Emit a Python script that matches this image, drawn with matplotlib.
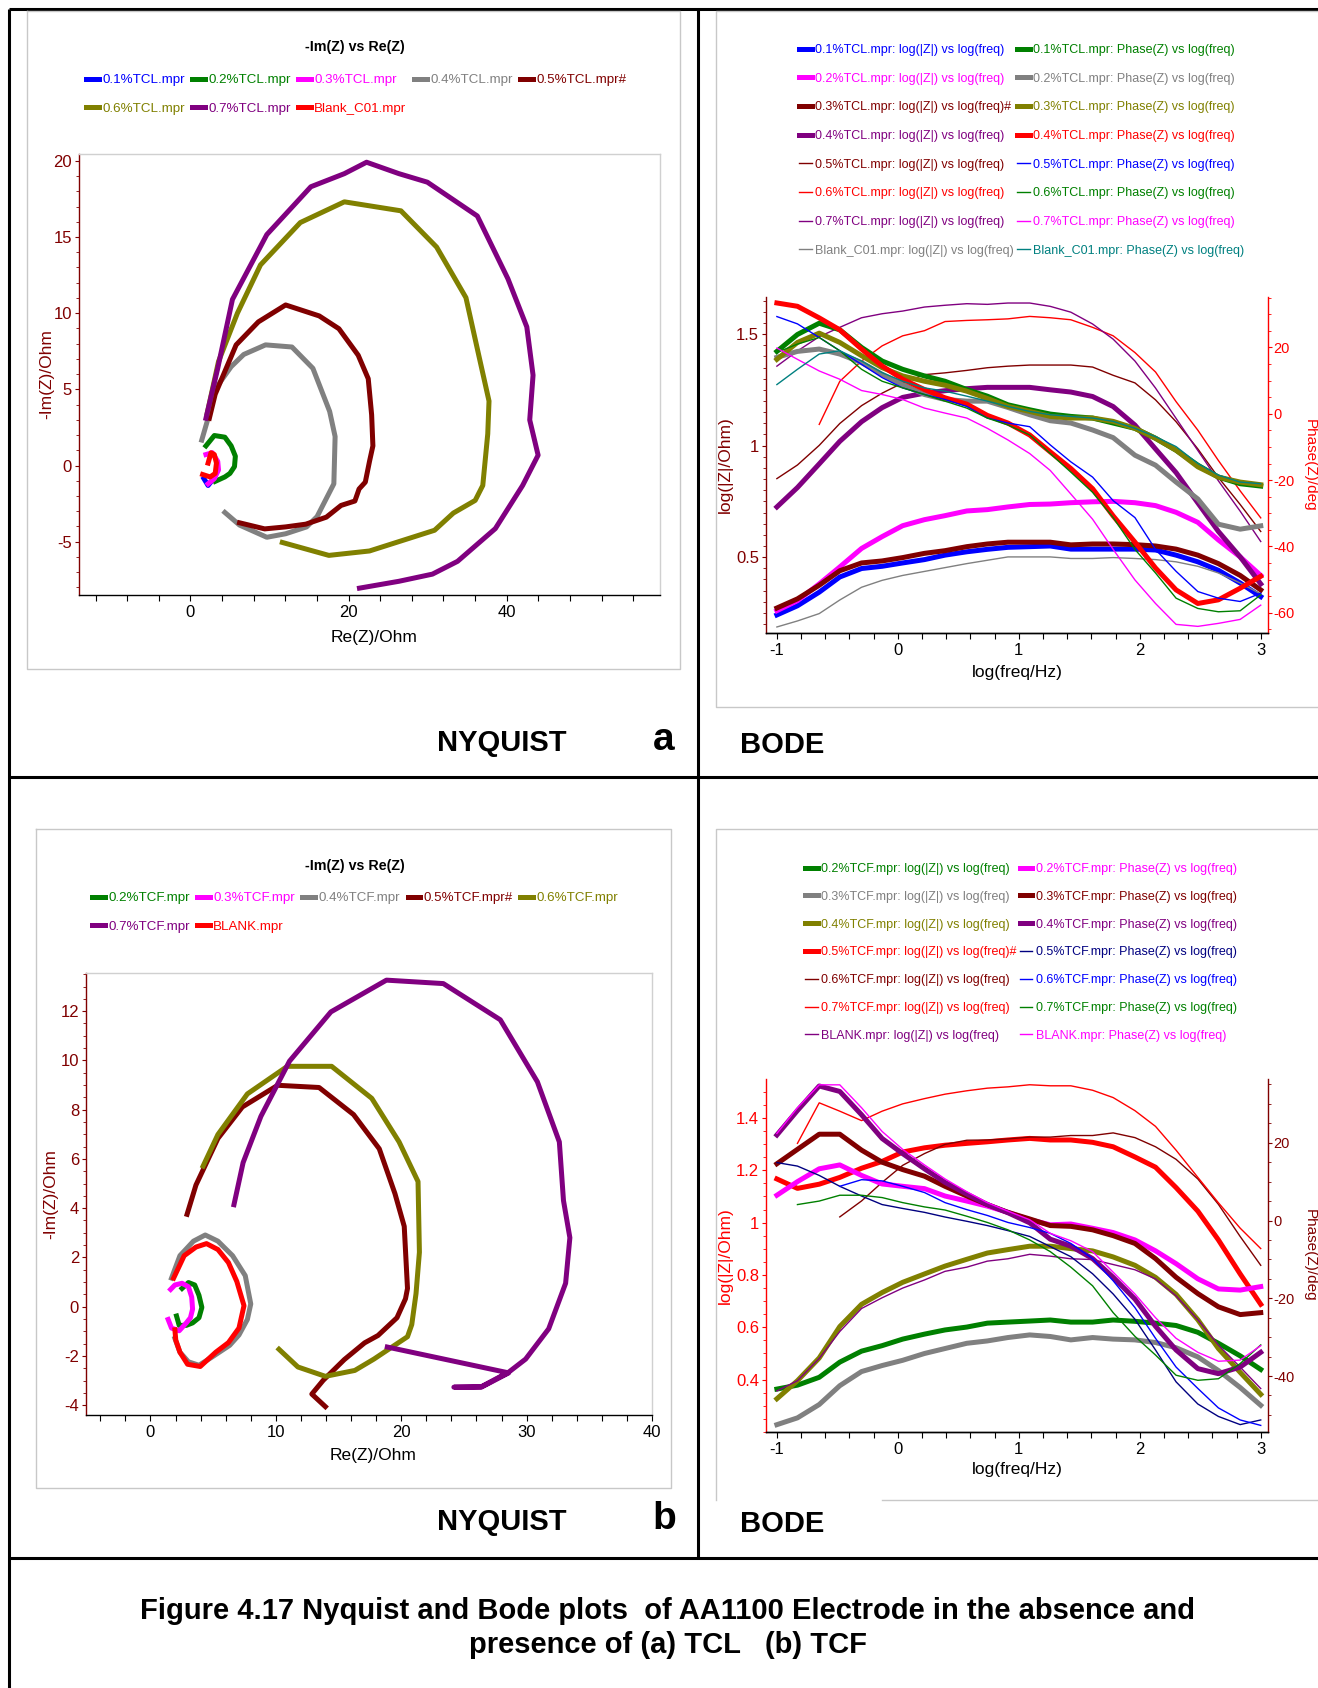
import matplotlib
matplotlib.use("Agg")
import matplotlib.pyplot as plt
from matplotlib import font_manager
from matplotlib.font_manager import FontProperties
from matplotlib.ticker import FuncFormatter, MultipleLocator, FixedLocator

nan = float("nan")

# ---------------- Nyquist (a) TCL : Re(Z) and -Im(Z) in Ohm ----------------
nqa_re_01 = [1.70, 2.23, 2.76]
nqa_im_01 = [-0.86, -1.31, -0.97]
nqa_re_02 = [1.96, 3.02, 4.35, 5.15, 5.68, 5.57, 4.99, 4.35, 3.13]
nqa_im_02 = [1.29, 1.97, 1.86, 1.29, 0.61, -0.07, -0.52, -0.75, -1.04]
nqa_re_03 = [1.96, 2.76, 3.45, 3.55, 3.02, 2.23]
nqa_im_03 = [0.72, 0.84, 0.27, -0.29, -0.86, -1.20]
nqa_re_04 = [1.43, 2.23, 3.13, 5.15, 6.74, 9.50, 12.84, 15.49, 17.61, 18.30,
             18.14, 16.02, 14.69, 12.04, 9.66, 6.21, 4.35]
nqa_im_04 = [1.67, 3.10, 5.02, 6.49, 7.29, 7.92, 7.78, 6.38, 3.55, 1.90,
             -1.20, -3.35, -4.03, -4.48, -4.71, -3.91, -3.08]
nqa_re_05 = [2.39, 3.13, 5.78, 8.59, 12.04, 16.29, 18.78, 21.22, 22.49, 22.92,
             23.08, 22.65, 22.12, 21.33, 20.80, 19.05, 17.19, 14.59, 12.04, 9.39, 6.21]
nqa_im_05 = [3.10, 4.68, 7.92, 9.43, 10.54, 9.82, 8.98, 7.24, 5.70, 3.33,
             1.29, 0.27, -1.09, -1.54, -2.33, -2.62, -3.39, -3.85, -4.03, -4.16, -3.76]
nqa_re_06 = [2.12, 3.55, 5.94, 8.86, 13.90, 19.47, 26.63, 31.14, 34.85, 36.45,
             37.77, 37.61, 36.98, 36.02, 33.26, 30.88, 22.65, 17.51, 11.62]
nqa_im_06 = [3.44, 6.83, 10.00, 13.17, 15.95, 17.31, 16.72, 14.34, 11.02, 7.29,
             4.23, 2.08, -1.31, -2.29, -3.12, -4.25, -5.61, -5.90, -5.05]
nqa_re_07 = [1.96, 3.45, 5.31, 9.66, 15.23, 19.47, 22.28, 26.37, 29.97, 36.29,
             40.16, 42.55, 43.34, 42.92, 43.98, 42.02, 38.57, 33.79, 30.61, 26.37, 21.38]
nqa_im_07 = [3.10, 6.38, 10.90, 15.16, 18.30, 19.16, 19.91, 19.16, 18.60, 16.38,
             12.26, 9.10, 5.93, 2.99, 0.68, -1.31, -4.14, -6.29, -7.13, -7.60, -8.05]
nqa_re_blank = [2.23, 2.60, 3.02, 3.29, 3.13, 2.49, 1.54]
nqa_im_blank = [0.16, 0.84, 0.72, 0.16, -0.52, -0.75, -0.59]

# ---------------- Nyquist (b) TCF ----------------
nqb_re_02 = [2.52, 3.03, 3.53, 3.87, 4.10, 3.87, 3.36, 2.86, 2.29, 2.08]
nqb_im_02 = [0.74, 0.98, 0.88, 0.46, -0.03, -0.45, -0.66, -0.76, -0.76, -0.38]
nqb_re_03 = [1.61, 1.95, 2.52, 3.03, 3.29, 3.36, 3.19, 2.86, 2.29, 1.68, 1.41]
nqb_im_03 = [0.70, 0.88, 0.95, 0.81, 0.39, -0.10, -0.45, -0.66, -0.98, -0.87, -0.52]
nqb_re_04 = [1.68, 2.35, 3.43, 4.37, 5.38, 6.55, 7.56, 8.00, 7.73, 7.06, 6.32,
             4.87, 3.87, 3.03, 2.35, 1.95]
nqb_im_04 = [1.16, 2.07, 2.66, 2.91, 2.66, 2.07, 1.26, 0.11, -0.52, -1.15, -1.57,
             -2.06, -2.38, -2.24, -1.85, -1.29]
nqb_re_05 = [2.92, 3.63, 5.38, 7.33, 10.15, 13.45, 16.20, 18.25, 19.50, 20.24,
             20.50, 20.34, 19.66, 18.15, 17.08, 15.46, 13.78, 12.87, 13.95]
nqb_im_05 = [3.75, 4.94, 6.83, 8.11, 8.99, 8.90, 7.80, 6.41, 4.59, 3.26,
             0.74, 0.32, -0.45, -1.17, -1.47, -2.15, -2.99, -3.55, -4.06]
nqb_re_06 = [4.20, 5.38, 7.73, 10.92, 14.45, 17.65, 19.83, 21.34, 21.45, 21.18,
             20.84, 20.50, 17.82, 16.30, 13.95, 11.76, 10.25]
nqb_im_06 = [5.71, 6.99, 8.64, 9.76, 9.76, 8.46, 6.69, 5.08, 2.21, 0.53,
             -0.73, -1.22, -2.13, -2.59, -2.83, -2.45, -1.73]
nqb_re_07 = [6.66, 7.39, 8.81, 11.09, 14.39, 18.82, 23.36, 27.90, 30.86, 32.61,
             32.94, 33.45, 33.11, 31.76, 29.92, 28.57, 26.39, 24.20, 26.39, 28.57, 18.89]
nqb_im_07 = [4.14, 5.85, 7.73, 9.97, 11.97, 13.26, 13.12, 11.65, 9.13, 6.69,
             4.31, 2.80, 0.95, -0.90, -2.13, -2.66, -3.25, -3.27, -3.27, -2.69, -1.64]
nqb_re_blank = [1.85, 2.69, 3.63, 4.47, 5.38, 6.22, 6.89, 7.46, 7.06, 6.22, 5.21,
                3.97, 2.96, 2.35, 2.02, 1.95]
nqb_im_blank = [1.16, 2.07, 2.42, 2.56, 2.32, 1.79, 1.02, 0.04, -0.87, -1.46, -1.85,
                -2.43, -2.34, -1.85, -1.36, -0.94]

# ---------------- Bode: log(freq/Hz) ----------------
log_freq = [-1.00, -0.83, -0.65, -0.48, -0.30, -0.13, 0.04, 0.22, 0.39, 0.57, 0.74, 0.91,
            1.09, 1.26, 1.43, 1.61, 1.78, 1.96, 2.13, 2.30, 2.48, 2.65, 2.83, 3.00]

# Bode (a) TCL, log|Z| series
bda_z_01 = [0.241, 0.282, 0.343, 0.411, 0.449, 0.459, 0.474, 0.489, 0.509, 0.524, 0.535, 0.544,
            0.547, 0.550, 0.536, 0.536, 0.536, 0.536, 0.532, 0.509, 0.479, 0.441, 0.384, 0.323]
bda_z_02 = [0.260, 0.305, 0.380, 0.456, 0.539, 0.592, 0.641, 0.668, 0.686, 0.707, 0.713, 0.725,
            0.736, 0.738, 0.744, 0.748, 0.750, 0.744, 0.731, 0.701, 0.656, 0.577, 0.501, 0.418]
bda_z_03 = [0.272, 0.313, 0.374, 0.439, 0.474, 0.483, 0.498, 0.517, 0.529, 0.547, 0.559, 0.567,
            0.567, 0.567, 0.555, 0.559, 0.559, 0.556, 0.550, 0.536, 0.509, 0.471, 0.418, 0.353]
bda_z_04 = [0.725, 0.812, 0.918, 1.019, 1.107, 1.170, 1.216, 1.235, 1.246, 1.255, 1.261, 1.261,
            1.261, 1.250, 1.240, 1.220, 1.175, 1.092, 0.985, 0.879, 0.743, 0.615, 0.501, 0.380]
bda_z_05 = [0.852, 0.913, 1.001, 1.099, 1.179, 1.235, 1.281, 1.318, 1.326, 1.337, 1.349, 1.356,
            1.361, 1.361, 1.361, 1.352, 1.315, 1.281, 1.205, 1.107, 0.985, 0.857, 0.736, 0.615]
bda_z_06 = [nan, nan, 1.095, 1.288, 1.379, 1.447, 1.492, 1.515, 1.556, 1.561, 1.564, 1.568,
            1.579, 1.573, 1.564, 1.530, 1.492, 1.417, 1.330, 1.197, 1.069, 0.933, 0.797, 0.676]
bda_z_07 = [1.356, 1.424, 1.488, 1.530, 1.573, 1.591, 1.603, 1.621, 1.629, 1.636, 1.633, 1.639,
            1.639, 1.624, 1.598, 1.545, 1.477, 1.379, 1.258, 1.122, 0.978, 0.842, 0.706, 0.570]
bda_z_blank = [0.187, 0.214, 0.247, 0.308, 0.365, 0.396, 0.418, 0.436, 0.453, 0.471, 0.486, 0.501,
               0.501, 0.501, 0.494, 0.494, 0.498, 0.494, 0.489, 0.479, 0.459, 0.429, 0.384, 0.335]
# Bode (a) TCL, phase series (deg)
bda_p_01 = [18.8, 23.9, 27.3, 25.3, 20.0, 15.9, 13.4, 11.4, 9.8, 7.3, 5.3, 2.7,
            1.2, -0.1, -0.8, -1.3, -2.8, -4.4, -7.4, -11.0, -15.5, -19.1, -21.1, -21.8]
bda_p_02 = [17.0, 18.8, 19.5, 18.0, 15.4, 11.9, 8.8, 5.8, 4.3, 3.8, 3.8, 1.9,
            -0.3, -2.1, -2.8, -4.9, -7.2, -12.5, -15.5, -20.6, -25.7, -33.3, -34.8, -33.8]
bda_p_03 = [16.4, 21.5, 24.3, 21.5, 17.5, 13.9, 11.4, 9.8, 8.6, 6.8, 4.6, 2.2,
            0.7, -0.8, -1.3, -1.3, -2.3, -4.4, -7.4, -11.0, -16.0, -19.1, -20.6, -21.4]
bda_p_04 = [33.4, 32.4, 28.9, 25.3, 19.5, 14.4, 10.4, 7.3, 4.8, 2.9, -0.5, -2.8,
            -6.4, -11.5, -16.5, -22.6, -30.8, -38.7, -46.5, -53.1, -57.2, -56.1, -52.6, -49.0]
bda_p_05 = [29.3, 27.1, 23.0, 19.0, 14.9, 10.9, 7.8, 5.8, 4.3, 2.2, -1.3, -2.8,
            -3.9, -9.4, -14.5, -19.1, -26.2, -31.3, -40.9, -47.5, -53.6, -55.6, -56.6, -54.1]
bda_p_06 = [18.5, 21.0, 23.0, 19.0, 13.4, 9.8, 7.8, 5.8, 3.8, 1.7, -1.3, -3.4,
            -6.4, -12.0, -17.6, -23.7, -31.3, -40.9, -48.0, -55.6, -58.7, -59.7, -59.4, -54.6]
bda_p_07 = [19.8, 16.4, 12.9, 10.4, 7.0, 5.8, 4.3, 1.7, 0.2, -1.3, -4.4, -7.9,
            -12.0, -17.1, -24.2, -31.8, -40.9, -50.1, -57.2, -63.5, -64.1, -63.2, -62.0, -57.7]
bda_p_blank = [8.8, 13.4, 18.0, 19.0, 15.9, 12.4, 9.8, 7.8, 6.8, 5.3, 3.8, 2.2,
               0.7, -0.3, -0.8, -1.3, -2.3, -4.4, -6.9, -9.9, -15.0, -18.5, -20.6, -21.1]

# Bode (b) TCF, log|Z| series
bdb_z_02 = [0.364, 0.379, 0.409, 0.467, 0.509, 0.530, 0.555, 0.574, 0.590, 0.601, 0.616, 0.620,
            0.624, 0.628, 0.620, 0.620, 0.628, 0.623, 0.616, 0.607, 0.581, 0.539, 0.491, 0.439]
bdb_z_03 = [0.228, 0.254, 0.305, 0.377, 0.431, 0.454, 0.474, 0.500, 0.519, 0.539, 0.548, 0.561,
            0.571, 0.565, 0.552, 0.561, 0.555, 0.552, 0.542, 0.522, 0.487, 0.435, 0.370, 0.302]
bdb_z_04 = [0.327, 0.396, 0.483, 0.603, 0.688, 0.733, 0.772, 0.804, 0.834, 0.860, 0.884, 0.897,
            0.910, 0.910, 0.901, 0.892, 0.869, 0.837, 0.791, 0.726, 0.629, 0.519, 0.428, 0.344]
bdb_z_05 = [1.167, 1.131, 1.147, 1.173, 1.208, 1.234, 1.270, 1.286, 1.296, 1.303, 1.309, 1.316,
            1.322, 1.316, 1.316, 1.307, 1.290, 1.251, 1.212, 1.134, 1.044, 0.934, 0.804, 0.688]
bdb_z_06 = [nan, nan, nan, 1.022, 1.083, 1.154, 1.219, 1.264, 1.299, 1.315, 1.316, 1.320,
            1.327, 1.327, 1.333, 1.333, 1.343, 1.325, 1.290, 1.242, 1.167, 1.070, 0.947, 0.837]
bdb_z_07 = [nan, 1.303, 1.458, 1.426, 1.390, 1.426, 1.454, 1.474, 1.491, 1.504, 1.514, 1.519,
            1.527, 1.523, 1.523, 1.506, 1.478, 1.428, 1.368, 1.277, 1.173, 1.076, 0.979, 0.901]
bdb_z_blank = [0.357, 0.396, 0.481, 0.584, 0.672, 0.713, 0.750, 0.781, 0.814, 0.830, 0.853, 0.862,
               0.879, 0.872, 0.862, 0.859, 0.840, 0.820, 0.785, 0.720, 0.629, 0.532, 0.448, 0.366]
# Bode (b) TCF, phase series (deg)
bdb_p_02 = [6.5, 10.0, 13.3, 14.3, 11.6, 9.4, 8.8, 8.2, 6.3, 5.0, 3.7, 2.1,
            0.2, -1.1, -0.9, -2.0, -3.1, -5.0, -7.8, -11.1, -15.0, -17.6, -17.9, -17.0]
bdb_p_03 = [14.6, 18.3, 22.2, 22.2, 18.1, 15.0, 13.1, 11.4, 8.8, 6.3, 4.1, 2.1,
            0.4, -1.3, -1.5, -2.4, -3.9, -5.9, -9.8, -14.6, -18.8, -22.2, -24.2, -23.7]
bdb_p_04 = [22.0, 28.3, 34.6, 33.2, 27.2, 21.1, 17.2, 13.3, 9.8, 6.8, 4.1, 2.0,
            -0.6, -4.8, -6.6, -9.8, -14.6, -20.2, -27.2, -33.3, -38.1, -39.4, -37.7, -33.9]
bdb_p_05 = [14.9, 14.0, 11.6, 8.8, 6.3, 4.1, 3.1, 2.1, 0.9, -0.2, -1.3, -2.6,
            -4.1, -6.7, -9.3, -13.7, -18.9, -25.4, -33.3, -41.5, -47.2, -50.4, -52.5, -51.3]
bdb_p_06 = [nan, nan, nan, 8.8, 10.5, 10.2, 8.8, 7.2, 4.6, 2.8, 1.3, -0.5,
            -1.8, -3.3, -5.9, -9.8, -15.5, -22.4, -30.3, -37.7, -43.2, -48.2, -51.3, -52.7]
bdb_p_07 = [nan, 4.1, 5.0, 6.5, 6.5, 5.9, 4.6, 3.5, 2.7, 1.1, -0.5, -2.4,
            -5.0, -8.0, -12.0, -16.8, -23.7, -29.8, -34.6, -39.8, -41.1, -40.7, -36.8, -32.0]
bdb_p_blank = [22.4, 29.0, 34.9, 34.9, 29.0, 22.9, 18.3, 14.3, 10.7, 7.4, 4.6, 2.4,
               0.2, -3.3, -5.2, -8.0, -13.3, -18.9, -25.0, -30.3, -33.9, -36.2, -35.9, -32.2]

tcl_names = ["0.1%TCL.mpr", "0.2%TCL.mpr", "0.3%TCL.mpr", "0.4%TCL.mpr",
             "0.5%TCL.mpr", "0.6%TCL.mpr", "0.7%TCL.mpr", "Blank_C01.mpr"]
tcf_names = ["0.2%TCF.mpr", "0.3%TCF.mpr", "0.4%TCF.mpr", "0.5%TCF.mpr",
             "0.6%TCF.mpr", "0.7%TCF.mpr", "BLANK.mpr"]

BLUE, GREEN, MAG, GRAY = "#0000ff", "#008000", "#ff00ff", "#808080"
DRED, OLIVE, PURP, RED = "#800000", "#808000", "#800080", "#ff0000"
TEAL, NAVY = "#008080", "#000080"
THICK, THIN = 3.6, 1.0

W, H = 1318, 1688


def has_font(name):
    try:
        font_manager.findfont(FontProperties(family=name), fallback_to_default=False)
        return True
    except ValueError:
        return False


if has_font("Liberation Sans Narrow"):
    NARROW, K = "Liberation Sans Narrow", 1.0
else:
    NARROW, K = "Liberation Sans", 0.82
BOLD = "Liberation Sans" if has_font("Liberation Sans") else "DejaVu Sans"

plt.rcParams["font.family"] = [NARROW, "DejaVu Sans"]
plt.rcParams["axes.linewidth"] = 1.0

TICK_FS = 12
LABEL_FS = 12.5

fig = plt.figure(figsize=(W / 100, H / 100), dpi=100)


def add_ax(l, t, r, b, **kw):
    return fig.add_axes([l / W, 1 - b / H, (r - l) / W, (b - t) / H], **kw)


def fx(x):
    return x / W


def fy(y):
    return 1 - y / H


# page frame: table grid and light grey panel boxes (pixel coordinates)
page = add_ax(0, 0, W, H, zorder=-5)
page.set_xlim(0, W)
page.set_ylim(H, 0)
page.axis("off")
for xs, ys in [([9, W], [9, 9]), ([9, 9], [9, H]), ([698, 698], [9, 1558]),
               ([9, W], [777, 777]), ([9, W], [1558, 1558])]:
    page.plot(xs, ys, color="black", lw=2.2, solid_capstyle="butt")
grey = "#c8c8c8"
for xs, ys in [([27, 680, 680, 27, 27], [11, 11, 669, 669, 11]),
               ([1318, 716, 716, 1318], [11, 11, 707, 707]),
               ([36, 671, 671, 36, 36], [829, 829, 1488, 1488, 829]),
               ([1318, 716, 716], [829, 829, 1500]),
               ([882, 1318], [1500, 1500])]:
    page.plot(xs, ys, color=grey, lw=1.0)

gfmt = FuncFormatter(lambda v, p: f"{v:g}")


def nyquist(ax, series, xlim, ylim, xmaj, xmin, ymin):
    for re, im, color, label in series:
        ax.plot(re, im, color=color, lw=THICK, label=label)
    ax.set_xlim(*xlim)
    ax.set_ylim(*ylim)
    ax.spines["left"].set_color(DRED)
    for s in ("top", "right"):
        ax.spines[s].set_color("#d0d0d0")
    ax.xaxis.set_major_locator(MultipleLocator(xmaj))
    ax.xaxis.set_minor_locator(MultipleLocator(xmin))
    ax.yaxis.set_minor_locator(MultipleLocator(ymin))
    ax.xaxis.set_major_formatter(gfmt)
    ax.yaxis.set_major_formatter(gfmt)
    ax.tick_params(axis="x", which="both", direction="out", length=4, width=0.8,
                   labelsize=TICK_FS, pad=3)
    ax.tick_params(axis="y", which="major", direction="out", length=3, width=0.8,
                   colors=DRED, labelsize=TICK_FS, pad=2)
    ax.tick_params(axis="y", which="minor", direction="out", length=2, width=0.6, colors=DRED)
    ax.set_xlabel("Re(Z)/Ohm", fontsize=LABEL_FS)
    ax.set_ylabel("-Im(Z)/Ohm", fontsize=LABEL_FS, color=DRED)


# ---------------- Nyquist (a) ----------------
axNa = add_ax(79, 154, 660, 595)
nyq_a = [(nqa_re_01, nqa_im_01, BLUE, tcl_names[0]),
         (nqa_re_02, nqa_im_02, GREEN, tcl_names[1]),
         (nqa_re_03, nqa_im_03, MAG, tcl_names[2]),
         (nqa_re_04, nqa_im_04, GRAY, tcl_names[3]),
         (nqa_re_05, nqa_im_05, DRED, tcl_names[4] + "#"),
         (nqa_re_06, nqa_im_06, OLIVE, tcl_names[5]),
         (nqa_re_07, nqa_im_07, PURP, tcl_names[6]),
         (nqa_re_blank, nqa_im_blank, RED, tcl_names[7])]
nyquist(axNa, nyq_a, (-14.1, 59.4), (-8.5, 20.45), 20, 4, 1)
axNa.xaxis.set_label_coords(0.508, -0.079)
axNa.yaxis.set_label_coords(-0.043, 0.5)

# ---------------- Nyquist (b) ----------------
axNb = add_ax(86, 973, 652, 1415)
nyq_b = [(nqb_re_02, nqb_im_02, GREEN, tcf_names[0]),
         (nqb_re_03, nqb_im_03, MAG, tcf_names[1]),
         (nqb_re_04, nqb_im_04, GRAY, tcf_names[2]),
         (nqb_re_05, nqb_im_05, DRED, tcf_names[3] + "#"),
         (nqb_re_06, nqb_im_06, OLIVE, tcf_names[4]),
         (nqb_re_07, nqb_im_07, PURP, tcf_names[5]),
         (nqb_re_blank, nqb_im_blank, RED, tcf_names[6])]
nyquist(axNb, nyq_b, (-5.14, 40), (-4.4, 13.55), 10, 2, 0.5)
axNb.xaxis.set_label_coords(0.508, -0.074)
axNb.yaxis.set_label_coords(-0.049, 0.5)

for ax, anchor, title_y in [(axNa, (86, 74), 47), (axNb, (92, 892), 866)]:
    h = ax.get_lines()
    n = len(h)
    # matplotlib fills legend columns first; reorder so entries read across rows
    order = []
    for c in range(5):
        order.append(h[c])
        if c + 5 < n:
            order.append(h[c + 5])
    fig.legend(handles=order, loc="upper left", bbox_to_anchor=(fx(anchor[0]), fy(anchor[1])),
               ncol=5, frameon=False, fontsize=11.8 * K, handlelength=0.95, handletextpad=0.25,
               columnspacing=0.55, labelspacing=1.2, borderpad=0, borderaxespad=0,
               labelcolor="linecolor")
    fig.text(fx(355), fy(title_y), "-Im(Z) vs Re(Z)", ha="center", va="center",
             fontsize=12.5 * K, color="black", weight="bold")


# ---------------- Bode plots ----------------
def bode(l, t, r, b, z_series, p_series, zlim, plim, zticks, pticks, zcol, pcol,
         legend_xy, spacing, xlab_off):
    ax = add_ax(l, t, r, b)
    ax.set_facecolor("none")
    for vals, color, lw, label in z_series:
        ax.plot(log_freq, vals, color=color, lw=lw, label=label)
    ax2 = ax.twinx()
    for vals, color, lw, label in p_series:
        ax2.plot(log_freq, vals, color=color, lw=lw, label=label)
    ax.set_xlim(-1.09, 3.06)
    ax.set_ylim(*zlim)
    ax2.set_ylim(*plim)
    ax.xaxis.set_major_locator(MultipleLocator(1))
    ax.xaxis.set_minor_locator(MultipleLocator(0.2))
    ax.yaxis.set_major_locator(FixedLocator(zticks))
    ax.yaxis.set_minor_locator(MultipleLocator(0.05))
    ax2.yaxis.set_major_locator(FixedLocator(pticks))
    ax2.yaxis.set_minor_locator(MultipleLocator(5))
    for a in (ax, ax2):
        a.xaxis.set_major_formatter(gfmt)
        a.yaxis.set_major_formatter(gfmt)
        a.spines["top"].set_visible(False)
    ax.spines["right"].set_visible(False)
    ax.spines["left"].set_color(zcol)
    ax2.spines["left"].set_visible(False)
    ax2.spines["right"].set_color(pcol)
    ax.tick_params(axis="x", which="both", direction="out", length=4, width=0.8,
                   labelsize=TICK_FS, pad=3)
    ax.tick_params(axis="y", which="major", length=3, width=0.8, colors=zcol,
                   labelsize=TICK_FS, pad=2)
    ax.tick_params(axis="y", which="minor", length=2, width=0.6, colors=zcol)
    ax2.tick_params(axis="y", which="major", length=3, width=0.8, colors=pcol,
                    labelsize=TICK_FS - 1.5, pad=1)
    ax2.tick_params(axis="y", which="minor", length=2, width=0.6, colors=pcol)
    ax.set_xlabel("log(freq/Hz)", fontsize=LABEL_FS)
    ax.set_ylabel("log(|Z|/Ohm)", fontsize=LABEL_FS, color=zcol)
    ax2.set_ylabel("Phase(Z)/deg", fontsize=LABEL_FS - 1.5, color=pcol, rotation=270)
    ax.xaxis.set_label_coords(0.5, -xlab_off / (b - t))
    ax.yaxis.set_label_coords(-33 / (r - l), 0.5)
    ax2.yaxis.set_label_coords(1 + 49 / (r - l), 0.5)
    handles = ax.get_lines() + ax2.get_lines()
    fig.legend(handles=handles, loc="upper left",
               bbox_to_anchor=(fx(legend_xy[0]), fy(legend_xy[1])), ncol=2, frameon=False,
               fontsize=11 * K, handlelength=1.0, handletextpad=0.25, columnspacing=0.3,
               labelspacing=spacing, borderpad=0, borderaxespad=0, labelcolor="linecolor")
    return ax, ax2


zt = ": log(|Z|) vs log(freq)"
pt = ": Phase(Z) vs log(freq)"

bode(766, 297, 1268, 633,
     [(bda_z_01, BLUE, THICK, tcl_names[0] + zt),
      (bda_z_02, MAG, THICK, tcl_names[1] + zt),
      (bda_z_03, DRED, THICK, tcl_names[2] + zt + "#"),
      (bda_z_04, PURP, THICK, tcl_names[3] + zt),
      (bda_z_05, DRED, THIN, tcl_names[4] + zt),
      (bda_z_06, RED, THIN, tcl_names[5] + zt),
      (bda_z_07, PURP, THIN, tcl_names[6] + zt),
      (bda_z_blank, GRAY, THIN, tcl_names[7] + zt)],
     [(bda_p_01, GREEN, THICK, tcl_names[0] + pt),
      (bda_p_02, GRAY, THICK, tcl_names[1] + pt),
      (bda_p_03, OLIVE, THICK, tcl_names[2] + pt),
      (bda_p_04, RED, THICK, tcl_names[3] + pt),
      (bda_p_05, BLUE, THIN, tcl_names[4] + pt),
      (bda_p_06, GREEN, THIN, tcl_names[5] + pt),
      (bda_p_07, MAG, THIN, tcl_names[6] + pt),
      (bda_p_blank, TEAL, THIN, tcl_names[7] + pt)],
     (0.16, 1.666), (-66.1, 35.2), [0.5, 1.0, 1.5], [-60, -40, -20, 0, 20],
     DRED, RED, (799, 44), 1.33, 32)

bode(766, 1079, 1268, 1432,
     [(bdb_z_02, GREEN, THICK, tcf_names[0] + zt),
      (bdb_z_03, GRAY, THICK, tcf_names[1] + zt),
      (bdb_z_04, OLIVE, THICK, tcf_names[2] + zt),
      (bdb_z_05, RED, THICK, tcf_names[3] + zt + "#"),
      (bdb_z_06, DRED, THIN, tcf_names[4] + zt),
      (bdb_z_07, RED, THIN, tcf_names[5] + zt),
      (bdb_z_blank, PURP, THIN, tcf_names[6] + zt)],
     [(bdb_p_02, MAG, THICK, tcf_names[0] + pt),
      (bdb_p_03, DRED, THICK, tcf_names[1] + pt),
      (bdb_p_04, PURP, THICK, tcf_names[2] + pt),
      (bdb_p_05, NAVY, THIN, tcf_names[3] + pt),
      (bdb_p_06, BLUE, THIN, tcf_names[4] + pt),
      (bdb_p_07, GREEN, THIN, tcf_names[5] + pt),
      (bdb_p_blank, MAG, THIN, tcf_names[6] + pt)],
     (0.2, 1.549), (-54.4, 36.4), [0.4, 0.6, 0.8, 1.0, 1.2, 1.4], [-40, -20, 0, 20],
     RED, DRED, (805, 863), 1.26, 30)

# ---------------- panel labels and caption ----------------
for y in (743, 1522):
    fig.text(fx(502), fy(y), "NYQUIST", ha="center", va="center", family=BOLD,
             weight="bold", fontsize=21)
    fig.text(fx(740), fy(y + 2), "BODE", ha="left", va="center", family=BOLD,
             weight="bold", fontsize=21)
fig.text(fx(664), fy(740), "a", ha="center", va="center", family=BOLD, weight="bold",
         fontsize=28)
fig.text(fx(664), fy(1519), "b", ha="center", va="center", family=BOLD, weight="bold",
         fontsize=28)
fig.text(fx(668), fy(1611),
         "Figure 4.17 Nyquist and Bode plots  of AA1100 Electrode in the absence and",
         ha="center", va="center", family=BOLD, weight="bold", fontsize=21)
fig.text(fx(668), fy(1645), "presence of (a) TCL   (b) TCF",
         ha="center", va="center", family=BOLD, weight="bold", fontsize=21)

fig.savefig("out.png", dpi=100)
